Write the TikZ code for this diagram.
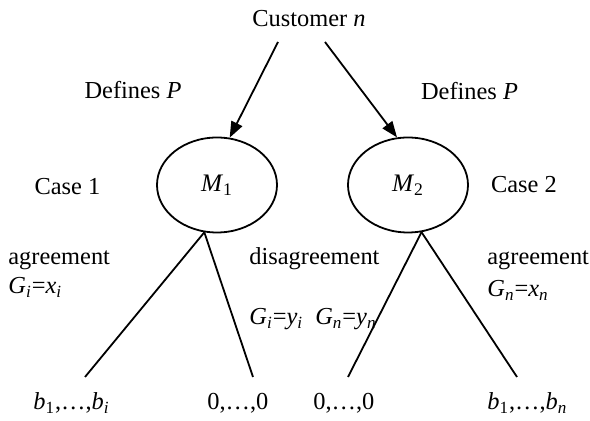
\documentclass[tikz,border=0pt]{standalone}
\usepackage{fontspec}
\setmainfont{Liberation Serif}
\usetikzlibrary{shapes.geometric}
\usetikzlibrary{arrows.meta}
\newcommand{\itx}[1]{\textit{#1}}
\newcommand{\subx}[1]{\textsubscript{#1}}
\tikzset{
    mytext/.style = {inner sep=0pt, anchor=base, font=\fontsize{12.2}{15}\selectfont, text=black},
    mytextl/.style = {mytext, anchor=base west},
    mymodel/.style = {ellipse, line width=0.9pt, draw=black, minimum width=60pt, minimum height=47.5pt, inner sep=0pt, font=\fontsize{12.6}{15}\selectfont},
    edgea/.style = {-{Triangle[length=8pt,width=6pt]}, line width=0.9pt, black}, % defines
    edgen/.style = {-, line width=0.9pt, black} % outcome
}
\begin{document}
\begin{tikzpicture}[x=0.5pt,y=-0.5pt]
\useasboundingbox (0,0) rectangle (590,421);
\node[mytext] at (309,27) (cust) {Customer \itx{n}};
\node[mymodel] at (217,185) (m1) {\itx{M}\subx{1}};
\node[mymodel] at (408,185) (m2) {\itx{M}\subx{2}};
\coordinate (cust1) at (278,42);
\coordinate (cust2) at (325,42);
%
\node[mytext] at (133,99) (def1) {Defines \itx{P}};
\node[mytext] at (469.5,100) (def2) {Defines \itx{P}};
\node[mytext] at (67.5,195) (case1) {Case 1};
\node[mytext] at (524,193) (case2) {Case 2};
%
\node[mytextl] at (8,265) (agr1) {agreement};
\node[mytextl] at (8,294) (g1) {\itx{G}\subx{\itx{i}}=\itx{x}\subx{\itx{i}}};
\node[mytextl] at (249,265) (dis) {disagreement};
\node[mytextl] at (249,325) (g2) {\itx{G}\subx{\itx{i}}=\itx{y}\subx{\itx{i}}\ \ \itx{G}\subx{\itx{n}}=\itx{y}\subx{\itx{n}}};
\node[mytextl] at (487,265) (agr2) {agreement};
\node[mytextl] at (487,297) (g3) {\itx{G}\subx{\itx{n}}=\itx{x}\subx{\itx{n}}};
%
\node[mytextl] at (33,410) (out1) {\itx{b}\subx{1},…,\itx{b}\subx{\itx{i}}};
\node[mytextl] at (207,410) (out2) {0,…,0};
\node[mytextl] at (313,410) (out3) {0,…,0};
\node[mytextl] at (487,410) (out4) {\itx{b}\subx{1},…,\itx{b}\subx{\itx{n}}};
\coordinate (end1) at (85,377);
\coordinate (end2) at (253,377);
\coordinate (end3) at (348,377);
\coordinate (end4) at (517,377);
%
\draw[edgea] (cust1) -- (m1.75);
\draw[edgea] (cust2) -- (m2.103);
\draw[edgen] (m1.255) edge (end1);
\draw[edgen] (m1.255) edge (end2);
\draw[edgen] (m2.286) edge (end3);
\draw[edgen] (m2.286) edge (end4);
\end{tikzpicture}
\end{document}
